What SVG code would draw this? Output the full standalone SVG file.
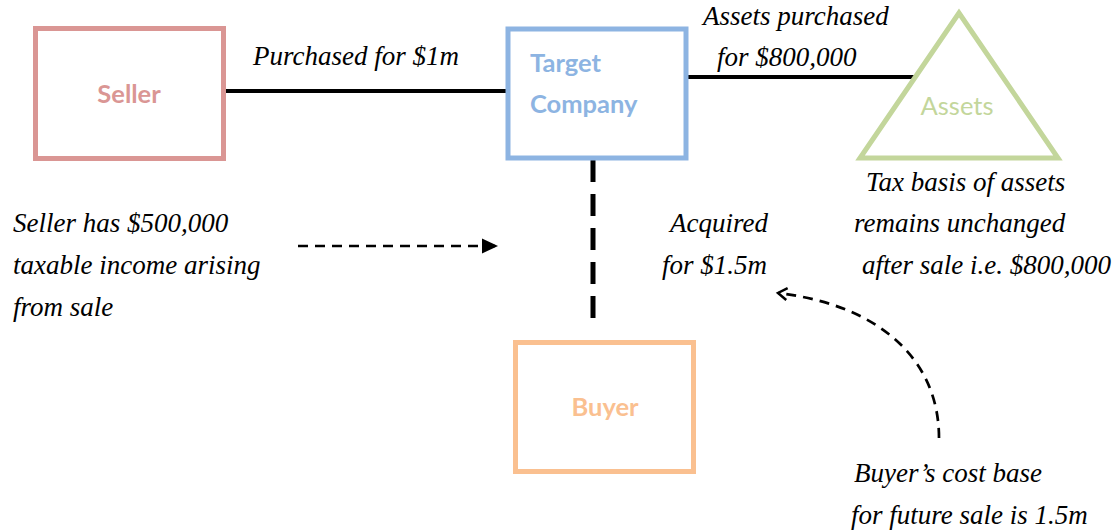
<svg xmlns="http://www.w3.org/2000/svg" width="1113" height="530" viewBox="0 0 1113 530">
<defs>
<style>
.lbl{font-family:"Liberation Serif","Times New Roman",serif;font-style:italic;font-size:27px;fill:#000}
.node{font-family:Lato,"Open Sans",sans-serif;font-weight:bold;font-size:25.5px}
.solid{stroke:#000;stroke-width:4;fill:none}
.dash{stroke:#000;stroke-width:2.7;fill:none;stroke-dasharray:10 7}
</style>
<marker id="tri" markerWidth="16" markerHeight="16" refX="15" refY="8" orient="auto" markerUnits="userSpaceOnUse">
<path d="M0,0.5 L16,8 L0,15.5 Z" fill="#000"/>
</marker>
<marker id="vee" markerWidth="14" markerHeight="14" refX="11" refY="7" orient="auto" markerUnits="userSpaceOnUse">
<path d="M2,1 L11,7 L2,13" fill="none" stroke="#000" stroke-width="2.5"/>
</marker>
</defs>
<rect width="1113" height="530" fill="#fff"/>
<g id="connectors">
<line class="solid" x1="224" y1="91" x2="508" y2="91"/>
<line class="solid" x1="686" y1="77" x2="915" y2="77"/>
<line x1="593" y1="160" x2="593" y2="330" stroke="#000" stroke-width="5" stroke-dasharray="22 12"/>
<line class="dash" x1="298" y1="246" x2="497" y2="246" marker-end="url(#tri)"/>
<path class="dash" d="M939 438 C939 360 880 305 778 293" marker-end="url(#vee)"/>
</g>
<g id="seller">
<rect x="35.5" y="28.5" width="188" height="130" fill="none" stroke="#DA9694" stroke-width="5"/>
<text class="node" x="129" y="103" text-anchor="middle" fill="#DA9694">Seller</text>
</g>
<g id="target">
<rect x="508" y="29" width="178" height="129" fill="none" stroke="#8DB4E2" stroke-width="5"/>
<text class="node" x="530" y="72" fill="#8DB4E2">Target</text>
<text class="node" x="530" y="113" fill="#8DB4E2">Company</text>
</g>
<g id="assets">
<polygon points="959,13 860,158 1058,158" fill="none" stroke="#C3D69B" stroke-width="5"/>
<text x="957" y="115" text-anchor="middle" font-family="Lato,'Open Sans',sans-serif" font-size="25.5" fill="#C3D69B">Assets</text>
</g>
<g id="buyer">
<rect x="515.5" y="342.5" width="178" height="129" fill="none" stroke="#FAC090" stroke-width="5"/>
<text class="node" x="605" y="416" text-anchor="middle" fill="#FAC090">Buyer</text>
</g>
<g id="labels">
<text class="lbl" x="253" y="65">Purchased for $1m</text>
<text class="lbl" x="703" y="25">Assets purchased</text>
<text class="lbl" x="717" y="66">for $800,000</text>
<text class="lbl" x="13" y="232">Seller has $500,000</text>
<text class="lbl" x="13" y="274">taxable income arising</text>
<text class="lbl" x="13" y="316">from sale</text>
<text class="lbl" x="670" y="232">Acquired</text>
<text class="lbl" x="662" y="274">for $1.5m</text>
<text class="lbl" x="866" y="191">Tax basis of assets</text>
<text class="lbl" x="854" y="232">remains unchanged</text>
<text class="lbl" x="862" y="274">after sale i.e. $800,000</text>
<text class="lbl" x="854" y="482">Buyer’s cost base</text>
<text class="lbl" x="851" y="524">for future sale is 1.5m</text>
</g>
</svg>
